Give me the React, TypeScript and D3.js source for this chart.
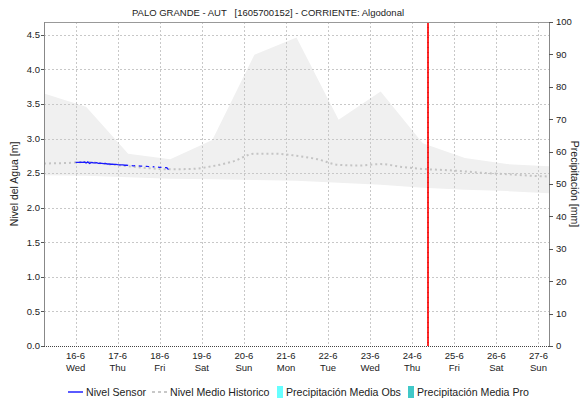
import React from "react";
import * as d3 from "d3";

// ---- chart text ----
const TITLE = "PALO GRANDE - AUT   [1605700152] - CORRIENTE: Algodonal";
const Y_LEFT_TITLE = "Nivel del Agua [m]";
const Y_RIGHT_TITLE = "Precipitación [mm]";

// ---- time window ----
const X_START = "2021-06-15T06:00";
const X_END = "2021-06-27T06:00";
const NOW_MARK = "2021-06-24T09:10";

// ---- historic envelope (daily at 06:00), metres ----
const bandTimes = [
  "2021-06-15T06:00", "2021-06-16T06:00", "2021-06-17T06:00", "2021-06-18T06:00",
  "2021-06-19T06:00", "2021-06-20T06:00", "2021-06-21T06:00", "2021-06-22T06:00",
  "2021-06-23T06:00", "2021-06-24T06:00", "2021-06-25T06:00", "2021-06-26T06:00",
  "2021-06-27T06:00",
];
const bandMax = [3.65, 3.46, 2.78, 2.70, 2.98, 4.21, 4.46, 3.27, 3.68, 2.93, 2.72, 2.63, 2.60];
const bandMin = [2.47, 2.46, 2.44, 2.42, 2.41, 2.40, 2.39, 2.36, 2.33, 2.29, 2.26, 2.24, 2.21];

// ---- historic mean level (every 12 h), metres ----
const meanTimes = [
  "2021-06-15T06:00", "2021-06-15T18:00", "2021-06-16T06:00", "2021-06-16T18:00",
  "2021-06-17T06:00", "2021-06-17T18:00", "2021-06-18T06:00", "2021-06-18T18:00",
  "2021-06-19T06:00", "2021-06-19T18:00", "2021-06-20T06:00", "2021-06-20T18:00",
  "2021-06-21T06:00", "2021-06-21T18:00", "2021-06-22T06:00", "2021-06-22T18:00",
  "2021-06-23T06:00", "2021-06-23T18:00", "2021-06-24T06:00", "2021-06-24T18:00",
  "2021-06-25T06:00", "2021-06-25T18:00", "2021-06-26T06:00", "2021-06-26T18:00",
  "2021-06-27T06:00",
];
const meanValues = [
  2.64, 2.645, 2.66, 2.63, 2.60, 2.57, 2.555, 2.56, 2.60, 2.67, 2.78, 2.78,
  2.75, 2.70, 2.62, 2.61, 2.63, 2.59, 2.56, 2.545, 2.525, 2.50, 2.485, 2.465, 2.45,
];

// ---- sensor level, hourly from 16-6 00:00 (null = missing reading) ----
const SENSOR_START = "2021-06-16T00:00";
const sensorValues: (number | null)[] = [
  2.655, 2.656, 2.655, 2.657, 2.656, 2.660, 2.645, 2.662, 2.640, 2.655, 2.650, 2.648,
  2.652, 2.640, 2.645, 2.642, 2.636, 2.640, 2.632, 2.634, 2.628, 2.630, 2.625, 2.626,
  2.622, 2.620, 2.618, 2.619, 2.614, 2.616, 2.612, null, 2.608, 2.606, 2.607, null,
  2.604, 2.600, 2.601, null, 2.598, 2.596, 2.595, null, 2.592, 2.590, null, 2.588,
  2.584, 2.583, null, 2.580, 2.578, 2.550,
];

// ---- legend ----
const legendItems = [
  { label: "Nivel Sensor", kind: "line", color: "#0000ff" },
  { label: "Nivel Medio Historico", kind: "dash", color: "#c8c8c8" },
  { label: "Precipitación Media Obs", kind: "box", color: "#66ffff" },
  { label: "Precipitación Media Pro", kind: "box", color: "#40c8c8" },
];

const W = 582;
const H = 404;
const M = { left: 44, right: 549, top: 22, bottom: 346 };
const FONT = "'Liberation Sans', Arial, sans-serif";
const TEXT = "#222";

const parse = d3.timeParse("%Y-%m-%dT%H:%M");

export default function App() {
  const x = d3.scaleTime().domain([parse(X_START)!, parse(X_END)!]).range([M.left, M.right]);
  const yL = d3.scaleLinear().domain([0, 4.685]).range([M.bottom, M.top]);
  const yR = d3.scaleLinear().domain([0, 100]).range([M.bottom, M.top]);

  const dayTicks = d3.timeDay.range(d3.timeDay.ceil(x.domain()[0]), x.domain()[1]);
  const fmtDay = d3.timeFormat("%-d-%-m");
  const fmtWeek = d3.timeFormat("%a");
  const leftTicks = yL.ticks(10);
  const rightTicks = yR.ticks(10);

  const band = bandTimes.map((t, i) => ({ t: parse(t)!, hi: bandMax[i], lo: bandMin[i] }));
  const areaGen = d3
    .area<{ t: Date; hi: number; lo: number }>()
    .x((d) => x(d.t))
    .y0((d) => yL(d.lo))
    .y1((d) => yL(d.hi));

  const mean = meanTimes.map((t, i) => ({ t: parse(t)!, v: meanValues[i] }));
  const meanLine = d3
    .line<{ t: Date; v: number }>()
    .x((d) => x(d.t))
    .y((d) => yL(d.v))
    .curve(d3.curveMonotoneX);

  const s0 = parse(SENSOR_START)!;
  const sensor = sensorValues.map((v, i) => ({ t: d3.timeHour.offset(s0, i), v }));
  const sensorLine = d3
    .line<{ t: Date; v: number | null }>()
    .defined((d) => d.v !== null)
    .x((d) => x(d.t))
    .y((d) => yL(d.v as number));

  const nowX = Math.round(x(parse(NOW_MARK)!));
  const midY = (M.top + M.bottom) / 2;

  // legend layout
  const legendY = 392;
  const legendPos = [68, 152, 277, 408];

  return (
    <svg
      width={W}
      height={H}
      style={{ position: "absolute", left: 0, top: 0, background: "#fff" }}
      fontFamily={FONT}
    >
      <rect width={W} height={H} fill="#fff" />

      {/* title */}
      <text x={268} y={16} textAnchor="middle" fontSize={9.5} fill={TEXT} style={{ whiteSpace: "pre" }}>
        {TITLE}
      </text>

      {/* historic envelope */}
      <path d={areaGen(band)!} fill="#f0f0f0" />

      {/* grid */}
      <g stroke="#c8c8c8" strokeDasharray="2,2" strokeWidth={1}>
        {leftTicks.filter((t) => t > 0).map((t) => (
          <line key={"h" + t} x1={M.left} x2={M.right} y1={Math.round(yL(t)) + 0.5} y2={Math.round(yL(t)) + 0.5} />
        ))}
        {dayTicks.map((d) => (
          <line key={"v" + +d} x1={Math.round(x(d)) + 0.5} x2={Math.round(x(d)) + 0.5} y1={M.top} y2={M.bottom} />
        ))}
      </g>

      {/* historic mean */}
      <path d={meanLine(mean)!} fill="none" stroke="#c4c4c4" strokeWidth={2} strokeDasharray="2,3" />

      {/* sensor */}
      <path d={sensorLine(sensor)!} fill="none" stroke="#1a1aff" strokeWidth={1.3} />

      {/* current time marker */}
      <line x1={nowX} x2={nowX} y1={M.top} y2={M.bottom} stroke="#ff2a2a" strokeWidth={2} />
      <line x1={nowX} x2={nowX} y1={M.top} y2={M.bottom} stroke="#c81010" strokeWidth={1} strokeDasharray="1,4" />

      {/* frame */}
      <line x1={M.left} x2={M.right} y1={M.top + 0.5} y2={M.top + 0.5} stroke="#999" />
      <line x1={M.left + 0.5} x2={M.left + 0.5} y1={M.top} y2={M.bottom} stroke="#888" />
      <line x1={M.right + 0.5} x2={M.right + 0.5} y1={M.top} y2={M.bottom} stroke="#888" />
      <line x1={M.left} x2={M.right} y1={M.bottom + 0.5} y2={M.bottom + 0.5} stroke="#444" strokeDasharray="1,1" />

      {/* left axis */}
      <g fontSize={9.5} fill={TEXT}>
        {leftTicks.map((t) => (
          <g key={"l" + t}>
            <line x1={M.left - 3} x2={M.left} y1={Math.round(yL(t)) + 0.5} y2={Math.round(yL(t)) + 0.5} stroke="#555" />
            <text x={M.left - 4} y={yL(t)} dy="0.35em" textAnchor="end">
              {d3.format(".1f")(t)}
            </text>
          </g>
        ))}
      </g>

      {/* right axis */}
      <g fontSize={9.5} fill={TEXT}>
        {rightTicks.map((t) => (
          <g key={"r" + t}>
            <line x1={M.right} x2={M.right + 4} y1={Math.round(yR(t)) + 0.5} y2={Math.round(yR(t)) + 0.5} stroke="#555" />
            <text x={M.right + 7} y={yR(t)} dy="0.35em" textAnchor="start">
              {t}
            </text>
          </g>
        ))}
      </g>

      {/* bottom axis labels */}
      <g fontSize={9.5} fill={TEXT} textAnchor="middle">
        {dayTicks.map((d) => (
          <g key={"x" + +d}>
            <text x={x(d)} y={359}>{fmtDay(d)}</text>
            <text x={x(d)} y={371}>{fmtWeek(d)}</text>
          </g>
        ))}
      </g>

      {/* axis titles */}
      <text
        transform={`translate(18,${midY}) rotate(-90)`}
        textAnchor="middle"
        fontSize={10.5}
        fill={TEXT}
      >
        {Y_LEFT_TITLE}
      </text>
      <text
        transform={`translate(571,${midY}) rotate(90)`}
        textAnchor="middle"
        fontSize={10.5}
        fill={TEXT}
      >
        {Y_RIGHT_TITLE}
      </text>

      {/* legend */}
      <g fontSize={10.6} fill={TEXT}>
        {legendItems.map((it, i) => {
          const lx = legendPos[i];
          return (
            <g key={it.label}>
              {it.kind === "line" && (
                <line x1={lx} x2={lx + 15} y1={legendY} y2={legendY} stroke={it.color} strokeWidth={1.3} />
              )}
              {it.kind === "dash" && (
                <line x1={lx} x2={lx + 15} y1={legendY} y2={legendY} stroke={it.color} strokeWidth={2} strokeDasharray="3,3" />
              )}
              {it.kind === "box" && <rect x={lx} y={legendY - 6} width={6} height={12} fill={it.color} />}
              <text x={it.kind === "box" ? lx + 9 : lx + 18} y={legendY} dy="0.35em">
                {it.label}
              </text>
            </g>
          );
        })}
      </g>
    </svg>
  );
}
